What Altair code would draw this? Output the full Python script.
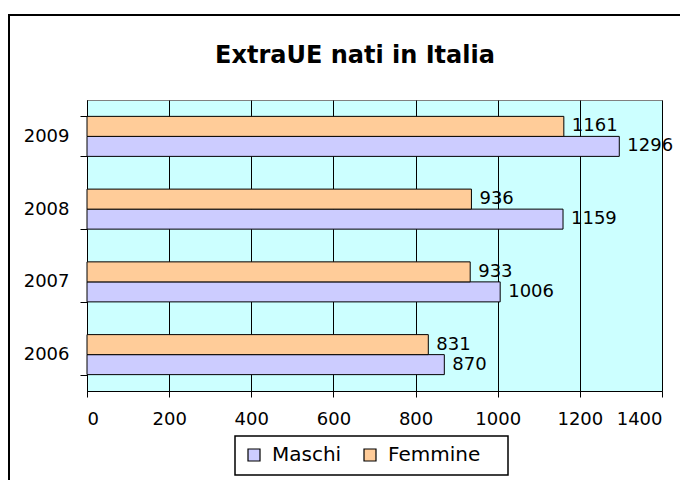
import altair as alt
import pandas as pd

years = ["2006", "2007", "2008", "2009"]
maschi = [870, 1006, 1159, 1296]
femmine = [831, 933, 936, 1161]
series = ["Maschi", "Femmine"]
colors = ["#CCCCFF", "#FFCC99"]
x_ticks = [0, 200, 400, 600, 800, 1000, 1200, 1400]
title_text = "ExtraUE nati in Italia"

rows = []
for i, y in enumerate(years):
    rows.append({"anno": y, "sesso": "Maschi", "valore": maschi[i]})
    rows.append({"anno": y, "sesso": "Femmine", "valore": femmine[i]})
df = pd.DataFrame(rows)

FONT = "DejaVu Sans"
YSORT = ["2009", "2008", "2007", "2006"]

x_enc = alt.X(
    "valore:Q",
    scale=alt.Scale(domain=[0, 1400], nice=False),
    axis=alt.Axis(
        values=x_ticks, format="d", title=None, grid=True, gridColor="black",
        gridWidth=1, gridOpacity=1, domainColor="black", tickColor="black",
        tickSize=6, labelPadding=13, labelFont=FONT, labelFontSize=18,
        labelColor="black",
    ),
)
y_enc = alt.Y(
    "anno:N",
    sort=YSORT,
    scale=alt.Scale(paddingInner=0.45, paddingOuter=0.225),
    axis=alt.Axis(
        title=None, tickBand="extent", domainColor="black", tickColor="black",
        tickSize=7, labelPadding=11, labelFont=FONT, labelFontSize=18,
        labelColor="black",
    ),
)
yoff = alt.YOffset("sesso:N", sort=["Femmine", "Maschi"],
                   scale=alt.Scale(paddingInner=0, paddingOuter=0))

legend_box = alt.Chart(pd.DataFrame({"a": [0]})).mark_rect(
    fill="white", stroke="black", strokeWidth=1.5
).encode(
    x=alt.value(148), x2=alt.value(421), y=alt.value(336), y2=alt.value(375)
)

bars = alt.Chart(df).mark_bar(stroke="black", strokeWidth=1).encode(
    x=x_enc,
    y=y_enc,
    yOffset=yoff,
    color=alt.Color(
        "sesso:N",
        scale=alt.Scale(domain=series, range=colors),
        legend=alt.Legend(
            title=None, orient="none", legendX=157, legendY=345,
            direction="horizontal", padding=0,
            symbolType="square", symbolSize=144,
            symbolStrokeColor="black", symbolStrokeWidth=1.2,
            labelFont=FONT, labelFontSize=20, labelColor="black",
            columnPadding=18, labelOffset=8,
        ),
    ),
)

labels = alt.Chart(df).mark_text(
    align="left", baseline="middle", dx=8, font=FONT, fontSize=18, color="black"
).encode(
    x=alt.X("valore:Q"),
    y=alt.Y("anno:N", sort=YSORT),
    yOffset=alt.YOffset("sesso:N", sort=["Femmine", "Maschi"]),
    text=alt.Text("valore:Q", format="d"),
)

title = alt.Chart(pd.DataFrame({"t": [title_text]})).mark_text(
    font=FONT, fontSize=24, fontWeight="bold", color="black",
    align="center", baseline="middle",
).encode(
    x=alt.value(268), y=alt.value(-44), text="t:N"
)

border = alt.Chart(pd.DataFrame({"a": [0]})).mark_rect(
    fill=None, stroke="black", strokeWidth=2
).encode(
    x=alt.value(-78), x2=alt.value(700), y=alt.value(-85), y2=alt.value(500)
)

chart = alt.layer(legend_box, bars, labels, title, border).properties(
    width=575,
    height=291,
    autosize=alt.AutoSizeParams(type="none"),
    padding={"left": 79, "top": 92, "right": 18, "bottom": 89},
    background="white",
).configure_view(
    fill="#CCFFFF", stroke="#808080", strokeWidth=1
)

chart.save("out.html", embed_options={"renderer": "svg", "actions": False})
